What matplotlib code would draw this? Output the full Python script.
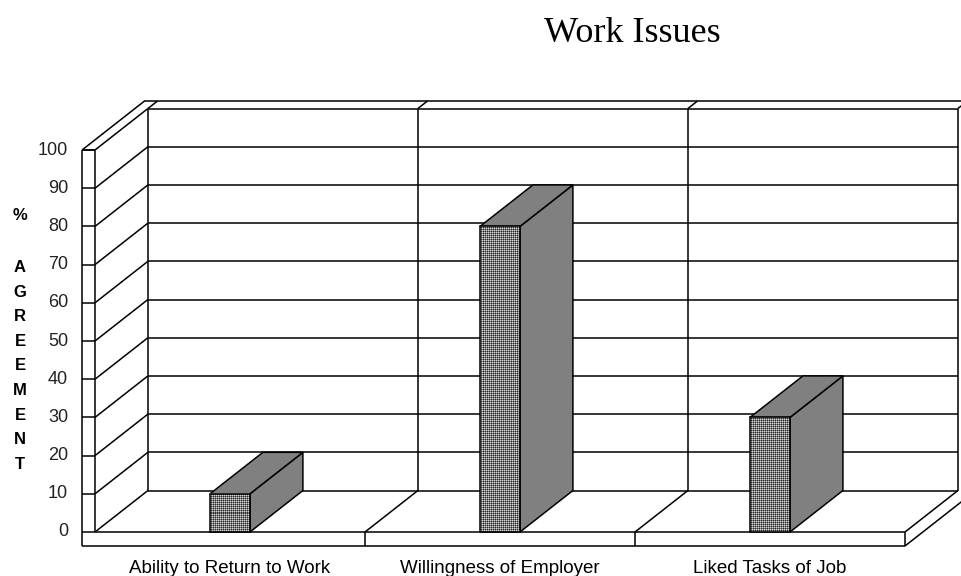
import numpy as np
import matplotlib.pyplot as plt
from matplotlib.patches import Polygon, Rectangle

categories = ['Ability to Return to Work', 'Willingness of Employer', 'Liked Tasks of Job']
agreement = [10, 80, 30]
yticks = list(range(0, 101, 10))

# oblique 3-D look: depth d in [0, 1] shifts a point right and up
DEPTH_X = 0.196   # in category units
DEPTH_Y = 10.86   # in percent units
WALL = 0.048      # left wall thickness
FLOOR = 3.66      # floor thickness
BACK = 0.18       # back wall thickness, as a fraction of depth
HALF = 0.074      # half bar width
PX_CAT = 270.0    # pixels per category
PX_PCT = 3.82     # pixels per percent


def proj(c, v, d=0.0):
    return c + d * DEPTH_X, v + d * DEPTH_Y


def seg(ax, p0, p1, z=2):
    ax.plot([p0[0], p1[0]], [p0[1], p1[1]], color='black', lw=1.1,
            solid_capstyle='butt', zorder=z)


fig = plt.figure(figsize=(9.61, 5.76), dpi=100)
ax = fig.add_axes([0, 0, 1, 1])
n = len(categories)

# back wall grid
for v in yticks:
    seg(ax, proj(0, v, 1), proj(n, v, 1))
for c in range(n + 1):
    seg(ax, proj(c, 0, 1), proj(c, 100, 1))
    seg(ax, proj(c, 100, 1), proj(c, 100, 1 + BACK))
seg(ax, proj(-WALL, 100, 1 + BACK), proj(n + 0.2, 100, 1 + BACK))

# left wall: front face, ticks and receding lines
seg(ax, (-WALL, -FLOOR), (-WALL, 100))
seg(ax, (-WALL, 100), (0, 100))
seg(ax, (0, 0), (0, 100))
seg(ax, proj(-WALL, 100, 0), proj(-WALL, 100, 1 + BACK))
for v in yticks:
    seg(ax, (-WALL, v), (0, v))
    seg(ax, proj(0, v, 0), proj(0, v, 1))

# floor
seg(ax, (-WALL, -FLOOR), (n, -FLOOR))
seg(ax, (0, 0), (n, 0))
for c in range(1, n + 1):
    seg(ax, (c, -FLOOR), (c, 0))
    seg(ax, proj(c, 0, 0), proj(c, 0, 1))
seg(ax, proj(n, -FLOOR, 0), proj(n, -FLOOR, 1 + BACK))

# dithered texture for the bar fronts
tile = np.array([[215, 125],
                 [125, 45]])

for i, val in enumerate(agreement):
    c0, c1 = i + 0.5 - HALF, i + 0.5 + HALF
    side = [proj(c1, 0), proj(c1, val), proj(c1, val, 1), proj(c1, 0, 1)]
    top = [proj(c0, val), proj(c1, val), proj(c1, val, 1), proj(c0, val, 1)]
    for pts in (side, top):
        ax.add_patch(Polygon(pts, closed=True, facecolor='#808080',
                             edgecolor='black', lw=1.1, zorder=3))
    nx = int(round((c1 - c0) * PX_CAT))
    ny = max(1, int(round(val * PX_PCT)))
    tex = np.tile(tile, (ny // 2 + 1, nx // 2 + 1))[:ny, :nx]
    ax.imshow(tex, cmap='gray', vmin=0, vmax=255, extent=(c0, c1, 0, val),
              interpolation='nearest', aspect='auto', zorder=3)
    ax.add_patch(Rectangle((c0, 0), c1 - c0, val, facecolor='none',
                           edgecolor='black', lw=1.1, zorder=4))

# tick labels and category names
for v in yticks:
    ax.text(-0.1, v, str(v), ha='right', va='center', fontsize=13,
            color='#222222', family='Liberation Sans')
for i, name in enumerate(categories):
    ax.text(i + 0.5, -9.6, name, ha='center', va='center', fontsize=13.5,
            color='black', family='Liberation Sans')

ax.set_xlim(-95 / PX_CAT, 866 / PX_CAT)
ax.set_ylim((532 - 576) / PX_PCT, 532 / PX_PCT)
ax.axis('off')

fig.text(20 / 961, 1 - 215 / 576, '%', ha='center', va='center',
         fontsize=12, fontweight='bold', family='Liberation Sans')
fig.text(20 / 961, 1 - 366 / 576, '\n'.join('AGREEMENT'), ha='center',
         va='center', ma='center', fontsize=12, fontweight='bold',
         linespacing=1.8, family='Liberation Sans')
fig.text(632 / 961, 1 - 42 / 576, 'Work Issues', ha='center', va='baseline',
         fontsize=26, family='Liberation Serif')

fig.savefig('out.png', dpi=100, facecolor='white')
